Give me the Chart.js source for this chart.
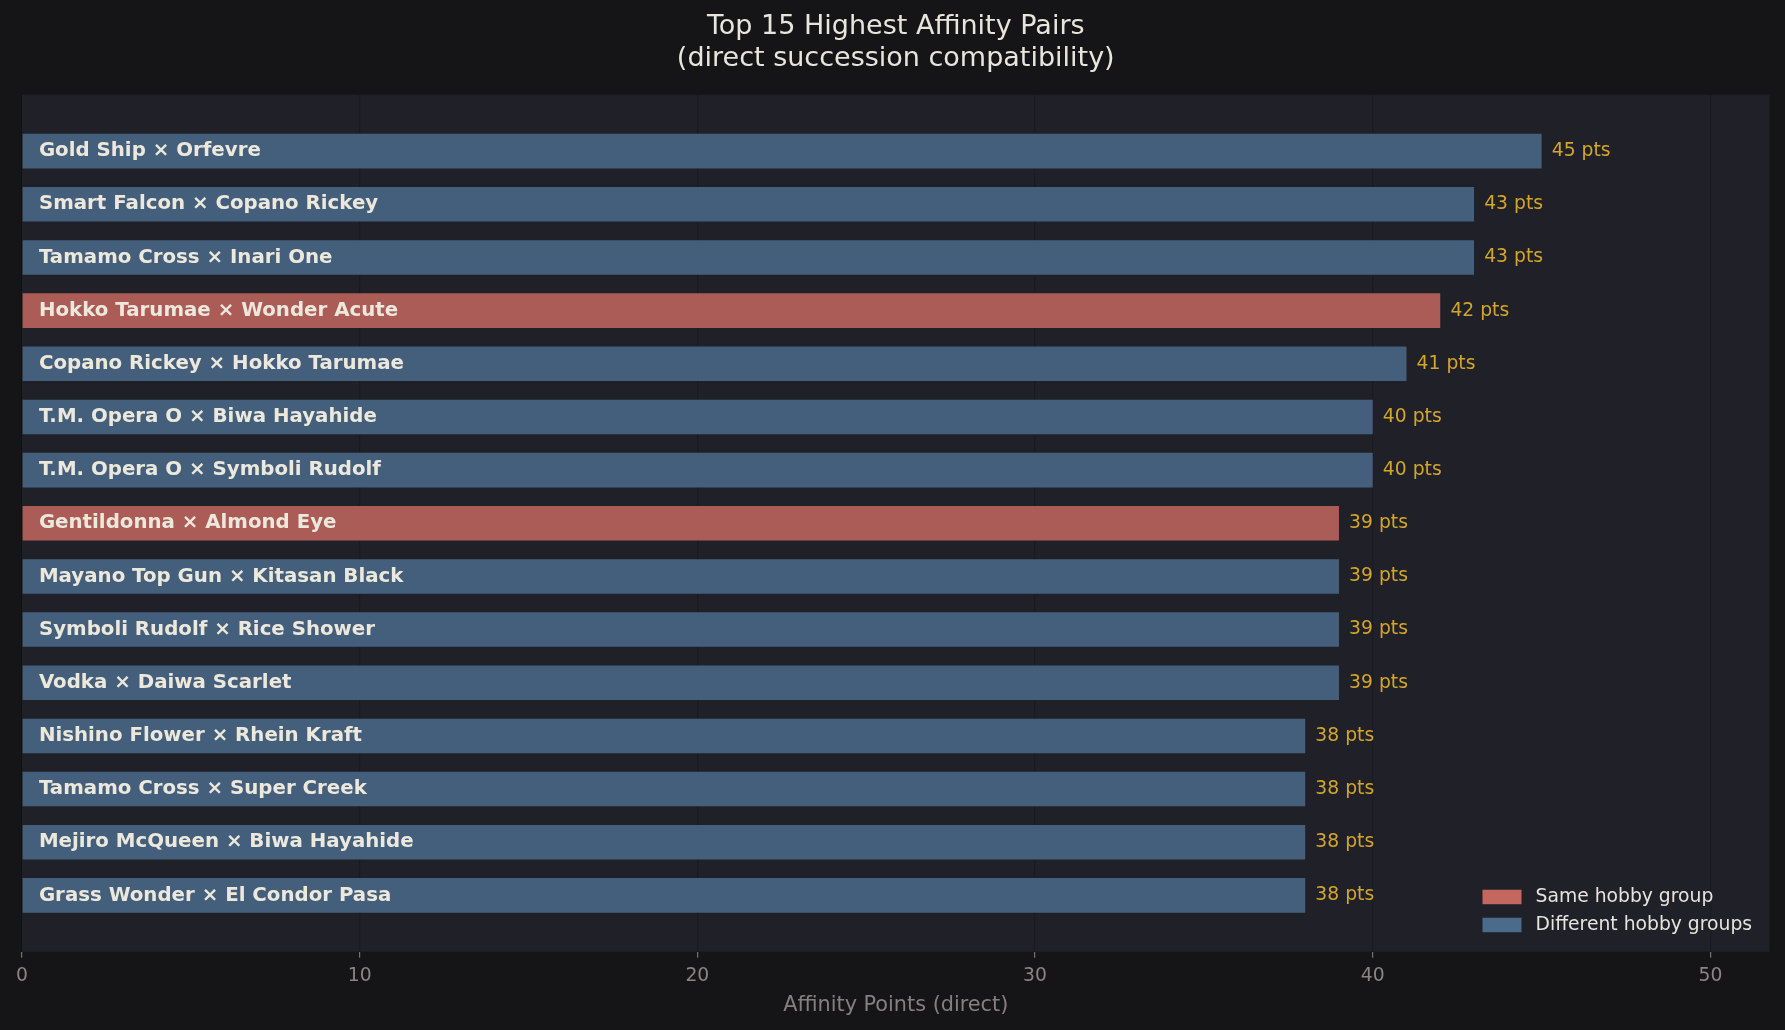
<!DOCTYPE html>
<html>
<head>
<meta charset="utf-8">
<script src="https://cdn.jsdelivr.net/npm/chart.js@4.4.0/dist/chart.umd.min.js"></script>
<style>
  body { margin: 0; background: #151517; }
  canvas { display: block; }
</style>
</head>
<body>
<canvas id="affinity-chart" width="1785" height="1030"></canvas>
<script>
// top 15 pairs, in display order (top to bottom)
const pairs = [
    'Gold Ship × Orfevre',
    'Smart Falcon × Copano Rickey',
    'Tamamo Cross × Inari One',
    'Hokko Tarumae × Wonder Acute',
    'Copano Rickey × Hokko Tarumae',
    'T.M. Opera O × Biwa Hayahide',
    'T.M. Opera O × Symboli Rudolf',
    'Gentildonna × Almond Eye',
    'Mayano Top Gun × Kitasan Black',
    'Symboli Rudolf × Rice Shower',
    'Vodka × Daiwa Scarlet',
    'Nishino Flower × Rhein Kraft',
    'Tamamo Cross × Super Creek',
    'Mejiro McQueen × Biwa Hayahide',
    'Grass Wonder × El Condor Pasa'
];
const points = [45, 43, 43, 42, 41, 40, 40, 39, 39, 39, 39, 38, 38, 38, 38];
const sameGroup = [false, false, false, true, false, false, false, true, false, false, false, false, false, false, false];
const xTicks = [0, 10, 20, 30, 40, 50];

const redSolid = '#c4675f';
const blueSolid = '#4b6b8b';
const redBar = 'rgba(196, 103, 95, 0.85)';
const blueBar = 'rgba(75, 107, 139, 0.85)';

var sameData = [];
var diffData = [];
points.forEach(function (v, i) {
    if (sameGroup[i]) {
        sameData.push({x: v, y: i});
    } else {
        diffData.push({x: v, y: i});
    }
});

const plotBackground = {
    id: 'plotBackground',
    beforeDraw: function (chart) {
        var a = chart.chartArea;
        var ctx = chart.ctx;
        ctx.save();
        ctx.fillStyle = '#1f2028';
        ctx.fillRect(a.left, a.top, a.right - a.left, a.bottom - a.top);
        ctx.restore();
    }
};

const barLabels = {
    id: 'barLabels',
    afterDraw: function (chart) {
        var ctx = chart.ctx;
        var xs = chart.scales.x;
        var ys = chart.scales.y;
        ctx.save();
        ctx.textBaseline = 'middle';
        pairs.forEach(function (name, i) {
            var yy = ys.getPixelForValue(i);
            ctx.font = 'bold 19.8px "DejaVu Sans"';
            ctx.fillStyle = '#ece8dc';
            ctx.textAlign = 'left';
            ctx.fillText(name, xs.getPixelForValue(0.5), yy);
            ctx.font = '18.75px "DejaVu Sans"';
            ctx.fillStyle = '#d4a52a';
            ctx.fillText(points[i] + ' pts', xs.getPixelForValue(points[i] + 0.3), yy);
        });

        // legend, lower right inside the plot
        var a = chart.chartArea;
        var items = [
            {label: chart.data.datasets[0].label, color: redSolid},
            {label: chart.data.datasets[1].label, color: blueSolid}
        ];
        var sx = a.right - 287;
        var sy = a.bottom - 62;
        ctx.font = '18.75px "DejaVu Sans"';
        items.forEach(function (it, k) {
            var top = sy + k * 28;
            ctx.fillStyle = it.color;
            ctx.fillRect(sx, top, 39, 14.5);
            ctx.fillStyle = '#e6e4dc';
            ctx.fillText(it.label, sx + 53, top + 7.5);
        });
        ctx.restore();
    }
};

var ctx = document.querySelector('#affinity-chart').getContext('2d');

var affinityChart = new Chart(ctx, {
    type: 'bar',
    data: {
        datasets: [{
            label: 'Same hobby group',
            data: sameData,
            backgroundColor: redBar
        }, {
            label: 'Different hobby groups',
            data: diffData,
            backgroundColor: blueBar
        }]
    },
    options: {
        responsive: false,
        animation: false,
        indexAxis: 'y',
        grouped: false,
        barPercentage: 0.65,
        categoryPercentage: 1,
        layout: {
            padding: {left: 22, right: 15.5, bottom: 11.5}
        },
        scales: {
            x: {
                type: 'linear',
                min: 0,
                max: 51.75,
                z: 1,
                afterBuildTicks: function (axis) {
                    axis.ticks = xTicks.map(function (v) { return {value: v}; });
                },
                grid: {
                    color: 'rgba(0, 0, 0, 0.14)',
                    tickColor: '#77716f',
                    tickLength: 6,
                    lineWidth: 1.2
                },
                border: {display: false},
                ticks: {
                    color: '#8a8483',
                    padding: 6.65,
                    font: {family: 'DejaVu Sans', size: 18.75}
                },
                title: {
                    display: true,
                    text: 'Affinity Points (direct)',
                    color: '#85807f',
                    padding: {top: 0, bottom: 0},
                    font: {family: 'DejaVu Sans', size: 20.8}
                }
            },
            y: {
                type: 'linear',
                reverse: true,
                offset: false,
                min: -1.06,
                max: 15.06,
                display: false,
                grid: {offset: false}
            }
        },
        plugins: {
            legend: {display: false},
            tooltip: {enabled: false},
            title: {
                display: true,
                text: ['Top 15 Highest Affinity Pairs', '(direct succession compatibility)'],
                color: '#e8e6dc',
                padding: {top: 10.5, bottom: 19.5},
                font: {family: 'DejaVu Sans', size: 27, weight: 'normal', lineHeight: 1.2}
            }
        }
    },
    plugins: [plotBackground, barLabels]
});
</script>
</body>
</html>
